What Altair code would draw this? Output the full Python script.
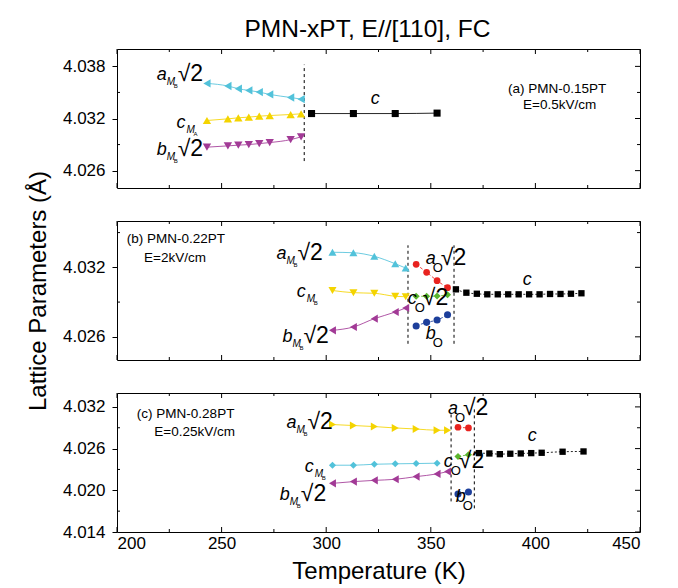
import altair as alt
import pandas as pd

FONT = "Liberation Sans"
W, H = 523, 139

# ---------------- axes ----------------
X_DOMAIN = [200, 450]
X_MAJOR = [200, 250, 300, 350, 400, 450]
X_MINOR = [225, 275, 325, 375, 425]

A_YDOM = [4.024, 4.040]
A_YMAJ = [4.026, 4.032, 4.038]
A_YMIN = [4.029, 4.035]
B_YDOM = [4.024, 4.036]
B_YMAJ = [4.026, 4.032]
B_YMIN = [4.029, 4.035]
C_YDOM = [4.014, 4.034]
C_YMAJ = [4.014, 4.020, 4.026, 4.032]
C_YMIN = [4.017, 4.023, 4.029]

# ---------------- panel (a) PMN-0.15PT ----------------
A_T_M = [243, 253, 258, 263, 268, 273, 283, 288]
A_aMB = [4.03604, 4.03574, 4.03543, 4.03523, 4.03504, 4.03477, 4.03442, 4.03423]
A_cMA = [4.03177, 4.03196, 4.03208, 4.03216, 4.03227, 4.03234, 4.03246, 4.03254]
A_bMB = [4.02870, 4.02885, 4.02893, 4.02900, 4.02911, 4.02923, 4.02957, 4.02989]
A_T_C = [293, 313, 333, 353]
A_c = [4.03257, 4.03257, 4.03257, 4.03262]
A_BOUND_T = [289.5]
A_BOUND_LO = [4.0271]
A_BOUND_HI = [4.0382]

# ---------------- panel (b) PMN-0.22PT ----------------
B_T_M = [303, 313, 323, 333, 338]
B_aMB = [4.03330, 4.03326, 4.03295, 4.03231, 4.03194]
B_cMB = [4.03000, 4.02981, 4.02976, 4.02950, 4.02946]
B_bMB = [4.02656, 4.02685, 4.02757, 4.02814, 4.02849]
B_T_O = [343, 348, 353, 358]
B_aO = [4.03226, 4.03157, 4.03085, 4.03024]
B_cO = [4.02950, 4.02950, 4.02952, 4.02964]
B_bO = [4.02694, 4.02725, 4.02745, 4.02791]
B_T_C = [362, 367, 372, 377, 382, 387, 392, 397, 402, 407, 412, 417, 422]
B_c = [4.03010, 4.02981, 4.02972, 4.02967, 4.02967, 4.02967, 4.02967,
       4.02967, 4.02967, 4.02970, 4.02970, 4.02972, 4.02976]
B_BOUND_T = [339.1, 361.1]
B_BOUND_LO = [4.0254, 4.0254]
B_BOUND_HI = [4.0339, 4.0339]

# ---------------- panel (c) PMN-0.28PT ----------------
C_T_M = [303, 313, 323, 333, 343, 353, 358]
C_aMB = [4.02946, 4.02932, 4.02917, 4.02897, 4.02882, 4.02864, 4.02864]
C_T_CM = [303, 313, 323, 333, 343, 353]
C_cMB = [4.02361, 4.02361, 4.02375, 4.02381, 4.02385, 4.02390]
C_bMB = [4.02100, 4.02125, 4.02143, 4.02158, 4.02197, 4.02236, 4.02269]
C_T_O = [363, 368]
C_aO = [4.02907, 4.02897]
C_cO = [4.02487, 4.02511]
C_bO = [4.01946, 4.01975]
C_T_C = [373, 378, 383, 388, 393, 398, 403, 413, 423]
C_c = [4.02535, 4.02530, 4.02520, 4.02526, 4.02530, 4.02535, 4.02540, 4.02555, 4.02559]
C_BOUND_T = [359.7, 370.8]
C_BOUND_LO = [4.0184, 4.0174]
C_BOUND_HI = [4.0310, 4.0319]

# ---------------- annotations ----------------
# (T, v, letter, subscript, sub-subscript, sqrt2)
A_LABELS = [(219.0, 4.03648, "a", "M", "B", True), (228.5, 4.03096, "c", "M", "A", False),
            (219.0, 4.02785, "b", "M", "B", True), (321.3, 4.03372, "c", "", "", False)]
B_LABELS = [(276.2, 4.03275, "a", "M", "B", True), (285.9, 4.02944, "c", "M", "B", False),
            (279.1, 4.02555, "b", "M", "B", True), (347.6, 4.03231, "a", "O", "", True),
            (339.0, 4.02883, "c", "O", "", True), (347.6, 4.02581, "b", "O", "", False),
            (393.9, 4.03047, "c", "", "", False)]
C_LABELS = [(281.0, 4.02897, "a", "M", "B", True), (289.7, 4.02269, "c", "M", "B", False),
            (277.8, 4.01864, "b", "M", "B", True), (358.2, 4.03091, "a", "O", "", True),
            (356.2, 4.02342, "c", "O", "", True), (361.9, 4.01835, "b", "O", "", False),
            (396.3, 4.02704, "c", "", "", False)]
A_NOTES = [(410.4, 4.03544, "(a) PMN-0.15PT"), (411.6, 4.03360, "E=0.5kV/cm")]
B_NOTES = [(228.1, 4.03447, "(b) PMN-0.22PT"), (227.7, 4.03281, "E=2kV/cm")]
C_NOTES = [(232.8, 4.03091, "(c) PMN-0.28PT"), (237.1, 4.02835, "E=0.25kV/cm")]

CYAN = "#52c2da"
YELLOW = "#f4d400"
PURPLE = "#a23a96"
RED = "#e8231f"
GREEN = "#5ab52e"
BLUE = "#1d3f9b"
BLACK = "#000000"


def make_panel(ydom, ymaj, ymin, series, bounds, labels, notes, show_x=False, ytitle=None):
    xscale = alt.Scale(domain=X_DOMAIN, nice=False, zero=False)
    if show_x:
        xaxis = alt.Axis(values=X_MAJOR, format="d", ticks=False, domain=False, grid=False,
                         labelFontSize=17, labelFont=FONT, labelPadding=3, labelColor="black",
                         title="Temperature (K)", titleFontSize=24, titleFont=FONT,
                         titleFontWeight="normal", titlePadding=8, titleColor="black")
        xe = alt.X("T:Q", scale=xscale, axis=xaxis)
    else:
        xe = alt.X("T:Q", scale=xscale, axis=None)
    ykw = dict(values=ymaj, format=".3f", ticks=True, tickSize=5, tickColor="black", domain=False,
               grid=False, labelFontSize=17, labelFont=FONT, labelPadding=7, labelColor="black")
    if ytitle:
        ykw.update(title=ytitle, titleFontSize=24, titleFont=FONT, titleFontWeight="normal",
                   titlePadding=12, titleColor="black")
    else:
        ykw["title"] = None
    ye = alt.Y("v:Q", scale=alt.Scale(domain=ydom, nice=False, zero=False), axis=alt.Axis(**ykw))

    layers = []
    # phase boundaries
    bdf = pd.DataFrame({"T": bounds[0], "v": bounds[1], "v2": bounds[2]})
    layers.append(alt.Chart(bdf).mark_rule(color=BLACK, strokeWidth=1, strokeDash=[3, 3])
                  .encode(x=xe, y=ye, y2=alt.Y2("v2:Q")))
    # data series
    for T, v, color, shape, size, dash in series:
        df = pd.DataFrame({"T": T, "v": v})
        lkw = dict(color=color, strokeWidth=1, interpolate="monotone", opacity=0.85)
        if dash:
            lkw["strokeDash"] = dash
        layers.append(alt.Chart(df).mark_line(**lkw).encode(x=xe, y=ye))
        layers.append(alt.Chart(df).mark_point(shape=shape, size=size, filled=True, color=color, opacity=1)
                      .encode(x=xe, y=ye))
    # labels
    ldf = pd.DataFrame(labels, columns=["T", "v", "main", "sub", "subsub", "root"])
    layers.append(alt.Chart(ldf).mark_text(align="left", baseline="alphabetic", font=FONT,
                                           fontStyle="italic", fontSize=18, color=BLACK)
                  .encode(x=xe, y=ye, text="main:N"))
    m = ldf[ldf["sub"] == "M"]
    if len(m):
        layers.append(alt.Chart(m).mark_text(align="left", baseline="alphabetic", font=FONT,
                                             fontStyle="italic", fontSize=10, dx=10, dy=5, color=BLACK)
                      .encode(x=xe, y=ye, text="sub:N"))
        layers.append(alt.Chart(m).mark_text(align="left", baseline="alphabetic", font=FONT,
                                             fontSize=6, dx=17, dy=8, color=BLACK)
                      .encode(x=xe, y=ye, text="subsub:N"))
        mr = m[m["root"]]
        if len(mr):
            layers.append(alt.Chart(mr.assign(r="√2")).mark_text(align="left", baseline="alphabetic",
                                                                  font=FONT, fontSize=23, dx=21, dy=1,
                                                                  color=BLACK)
                          .encode(x=xe, y=ye, text="r:N"))
    o = ldf[ldf["sub"] == "O"]
    if len(o):
        layers.append(alt.Chart(o).mark_text(align="left", baseline="alphabetic", font=FONT,
                                             fontSize=13, dx=7, dy=8, color=BLACK)
                      .encode(x=xe, y=ye, text="sub:N"))
        orr = o[o["root"]]
        if len(orr):
            layers.append(alt.Chart(orr.assign(r="√2")).mark_text(align="left", baseline="alphabetic",
                                                                   font=FONT, fontSize=23, dx=15, dy=1,
                                                                   color=BLACK)
                          .encode(x=xe, y=ye, text="r:N"))
    ndf = pd.DataFrame(notes, columns=["T", "v", "txt"])
    layers.append(alt.Chart(ndf).mark_text(align="center", baseline="middle", font=FONT, fontSize=13.5,
                                           color=BLACK)
                  .encode(x=xe, y=ye, text="txt:N"))
    # inward mirror ticks
    xmaj = pd.DataFrame({"T": X_MAJOR})
    xmin = pd.DataFrame({"T": X_MINOR})
    for d, ln in ((xmaj, 5), (xmin, 3)):
        layers.append(alt.Chart(d).mark_rule(color=BLACK, strokeWidth=1)
                      .encode(x=xe, y=alt.value(0), y2=alt.value(ln)))
        layers.append(alt.Chart(d).mark_rule(color=BLACK, strokeWidth=1)
                      .encode(x=xe, y=alt.value(H), y2=alt.value(H - ln)))
    ymj = pd.DataFrame({"v": ymaj})
    ymn = pd.DataFrame({"v": ymin})
    layers.append(alt.Chart(ymn).mark_rule(color=BLACK, strokeWidth=1)
                  .encode(y=ye, x=alt.value(0), x2=alt.value(3)))
    for d, ln in ((ymj, 5), (ymn, 3)):
        layers.append(alt.Chart(d).mark_rule(color=BLACK, strokeWidth=1)
                      .encode(y=ye, x=alt.value(W), x2=alt.value(W - ln)))
    return alt.layer(*layers).properties(width=W, height=H)


pa = make_panel(A_YDOM, A_YMAJ, A_YMIN,
                [(A_T_M, A_aMB, CYAN, "triangle-left", 70, None),
                 (A_T_M, A_cMA, YELLOW, "triangle-up", 70, None),
                 (A_T_M, A_bMB, PURPLE, "triangle-down", 70, None),
                 (A_T_C, A_c, BLACK, "square", 50, None)],
                (A_BOUND_T, A_BOUND_LO, A_BOUND_HI), A_LABELS, A_NOTES)
pb = make_panel(B_YDOM, B_YMAJ, B_YMIN,
                [(B_T_M, B_aMB, CYAN, "triangle-up", 65, None),
                 (B_T_M, B_cMB, YELLOW, "triangle-down", 65, None),
                 (B_T_M, B_bMB, PURPLE, "triangle-left", 65, None),
                 (B_T_O, B_aO, RED, "circle", 45, [3, 2]),
                 (B_T_O, B_cO, GREEN, "diamond", 50, [3, 2]),
                 (B_T_O, B_bO, BLUE, "circle", 50, [3, 2]),
                 (B_T_C, B_c, BLACK, "square", 40, [2, 2])],
                (B_BOUND_T, B_BOUND_LO, B_BOUND_HI), B_LABELS, B_NOTES,
                ytitle="Lattice Parameters (Å)")
pc = make_panel(C_YDOM, C_YMAJ, C_YMIN,
                [(C_T_M, C_aMB, YELLOW, "triangle-right", 65, None),
                 (C_T_CM, C_cMB, CYAN, "diamond", 50, None),
                 (C_T_M, C_bMB, PURPLE, "triangle-left", 65, None),
                 (C_T_O, C_aO, RED, "circle", 45, [3, 2]),
                 (C_T_O, C_cO, GREEN, "diamond", 50, [3, 2]),
                 (C_T_O, C_bO, BLUE, "circle", 50, [3, 2]),
                 (C_T_C, C_c, BLACK, "square", 40, [2, 2])],
                (C_BOUND_T, C_BOUND_LO, C_BOUND_HI), C_LABELS, C_NOTES, show_x=True)

chart = alt.vconcat(pa, pb, pc, spacing=33, bounds="flush").properties(
    title=alt.TitleParams("PMN-xPT, E//[110], FC", font=FONT, fontSize=24.5, fontWeight="normal",
                          anchor="middle", color="black", offset=6, dx=34),
    padding={"left": 25, "top": 16, "right": 10, "bottom": 2},
    background="white",
).configure_view(stroke="black", strokeWidth=1)

chart.save("out.html", embed_options={"renderer": "svg", "actions": False})
